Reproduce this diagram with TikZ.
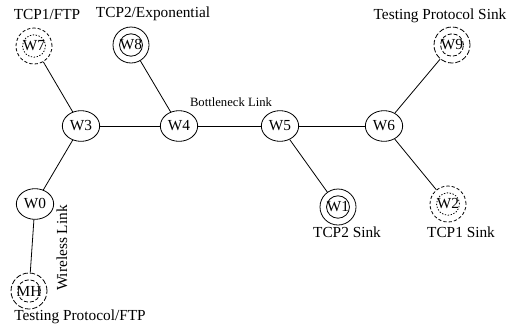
\documentclass[tikz,border=0pt]{standalone}
\usepackage{fontspec}
\setmainfont{Liberation Serif}
\usetikzlibrary{shapes.geometric}

\begin{document}
\begin{tikzpicture}[x=0.75pt,y=-0.75pt,font=\fontsize{11.5}{13}\selectfont,line width=0.6pt,
  router/.style={ellipse,draw,inner sep=0pt,minimum width=28pt,minimum height=23pt},
  endhost/.style={ellipse,draw,inner sep=0pt,minimum width=27pt,minimum height=27pt},
  ring/.style={path picture={\draw[#1] (path picture bounding box.center) ellipse (8.6pt and 8.4pt);}},
  ftphost/.style={endhost,dashed,dash pattern=on 2.4pt off 1.6pt,ring={dash pattern=on 1pt off 1.2pt}},
  testhost/.style={endhost,dash pattern=on 4pt off 1.5pt,ring={dash pattern=on 3pt off 1.5pt}},
  tcphost/.style={endhost,ring={solid}},
  tag/.style={inner sep=0pt}]
\useasboundingbox (0,0) rectangle (509,325);
\node[router] (w3) at (81,126) {W3};
\node[router] (w4) at (179,126) {W4};
\node[router] (w5) at (280,126) {W5};
\node[router] (w6) at (384,126) {W6};
\node[router] (w0) at (35,204) {W0};
\node[ftphost] (w7) at (34,46) {W7};
\node[tcphost] (w8) at (131,45) {W8};
\node[testhost] (w9) at (452,45) {W9};
\node[tcphost] (w1) at (338,207) {W1};
\node[ftphost] (w2) at (448,204) {W2};
\node[testhost] (mh) at (29,291) {MH};
\draw (w7) -- (w3);
\draw (w8) -- (w4);
\draw (w3) -- (w4);
\draw (w4) -- (w5);
\draw (w5) -- (w6);
\draw (w6) -- (w9);
\draw (w5) -- (w1);
\draw (w6) -- (w2);
\draw (w3) -- (w0);
\draw (w0) -- (mh);
\node[tag] (lbl-w7) at (47,14) {TCP1/FTP};
\node[tag] (lbl-w8) at (153,14) {TCP2/Exponential};
\node[tag] (lbl-w9) at (440,16) {Testing Protocol Sink};
\node[tag,font=\fontsize{9.5}{11}\selectfont] (lbl-bottleneck) at (231,102) {Bottleneck Link};
\node[tag] (lbl-w1) at (347,232) {TCP2 Sink};
\node[tag] (lbl-w2) at (461,232) {TCP1 Sink};
\node[tag] (lbl-mh) at (80,317) {Testing Protocol/FTP};
\node[tag,rotate=90] (lbl-wireless) at (62,248) {Wireless Link};
\end{tikzpicture}
\end{document}
